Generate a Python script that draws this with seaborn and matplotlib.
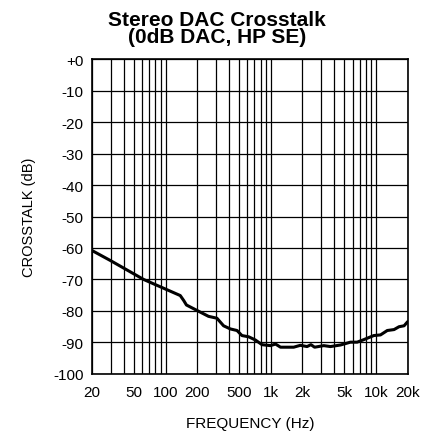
import numpy as np
import pandas as pd
import matplotlib
matplotlib.use('Agg')
import matplotlib.pyplot as plt
import seaborn as sns
from matplotlib.ticker import FixedLocator, NullFormatter

# Data
freq_hz = [20, 30, 62, 138, 149, 158, 201, 256, 308, 356, 413, 478, 532, 617, 713,
           826, 993, 1110, 1238, 1652, 1912, 2212, 2410, 2610, 3192, 3692, 4600,
           5720, 6620, 7660, 9540, 11040, 12800, 14860, 16560, 18500, 20000]
crosstalk_db = [-60.8, -64.0, -70.0, -75.1, -76.7, -78.1, -79.9, -81.7, -82.3, -84.7,
                -85.7, -86.2, -87.8, -88.2, -89.2, -90.7, -91.0, -90.5, -91.5, -91.5,
                -90.9, -91.3, -90.7, -91.5, -91.0, -91.3, -90.8, -89.9, -89.9, -89.1,
                -87.8, -87.6, -86.2, -85.9, -85.0, -84.7, -83.4]

x_ticks = [20, 50, 100, 200, 500, 1000, 2000, 5000, 10000, 20000]
x_tick_labels = ['20', '50', '100', '200', '500', '1k', '2k', '5k', '10k', '20k']
y_ticks = list(range(-100, 1, 10))
y_tick_labels = ['-100', '-90', '-80', '-70', '-60', '-50', '-40', '-30', '-20', '-10', '+0']

df = pd.DataFrame({'freq': freq_hz, 'xtalk': crosstalk_db})

sns.set_style('white')
plt.rcParams['font.family'] = ['Liberation Sans', 'DejaVu Sans']
plt.rcParams['text.color'] = 'black'
plt.rcParams['axes.labelcolor'] = 'black'

fig = plt.figure(figsize=(4.22, 4.35), dpi=100)
ax = fig.add_axes([0.218, 0.138, 0.748, 0.724])

sns.lineplot(data=df, x='freq', y='xtalk', ax=ax, color='black', linewidth=2.2)

ax.set_xscale('log')
ax.set_xlim(20, 20000)
ax.set_ylim(-100, 0)

# grid lines at every 1-9 step of each decade
minor_lines = [m * 10 ** d for d in range(1, 5) for m in range(1, 10)]
minor_lines = [v for v in minor_lines if 20 < v < 20000]
ax.xaxis.set_minor_locator(FixedLocator(minor_lines))
ax.xaxis.set_minor_formatter(NullFormatter())
ax.set_xticks(x_ticks)
ax.set_xticklabels(x_tick_labels)
ax.set_yticks(y_ticks)
ax.set_yticklabels(y_tick_labels)
ax.grid(True, which='both', axis='x', color='black', linewidth=0.9)
ax.grid(True, which='major', axis='y', color='black', linewidth=0.9)
ax.tick_params(axis='both', which='both', length=0, labelsize=11,
               colors='black', labelcolor='black')
ax.tick_params(axis='y', pad=6)
ax.tick_params(axis='x', pad=8)

for s in ax.spines.values():
    s.set_color('black')
    s.set_linewidth(1.2)

ax.set_xlabel('FREQUENCY (Hz)', fontsize=11, labelpad=12, color='black')
ax.set_ylabel('CROSSTALK (dB)', fontsize=10.5, labelpad=12, color='black')
fig.suptitle('Stereo DAC Crosstalk\n(0dB DAC, HP SE)', x=0.514, y=0.975,
             fontsize=15, fontweight='bold', linespacing=0.9, color='black')

fig.savefig('out.png', dpi=100)
